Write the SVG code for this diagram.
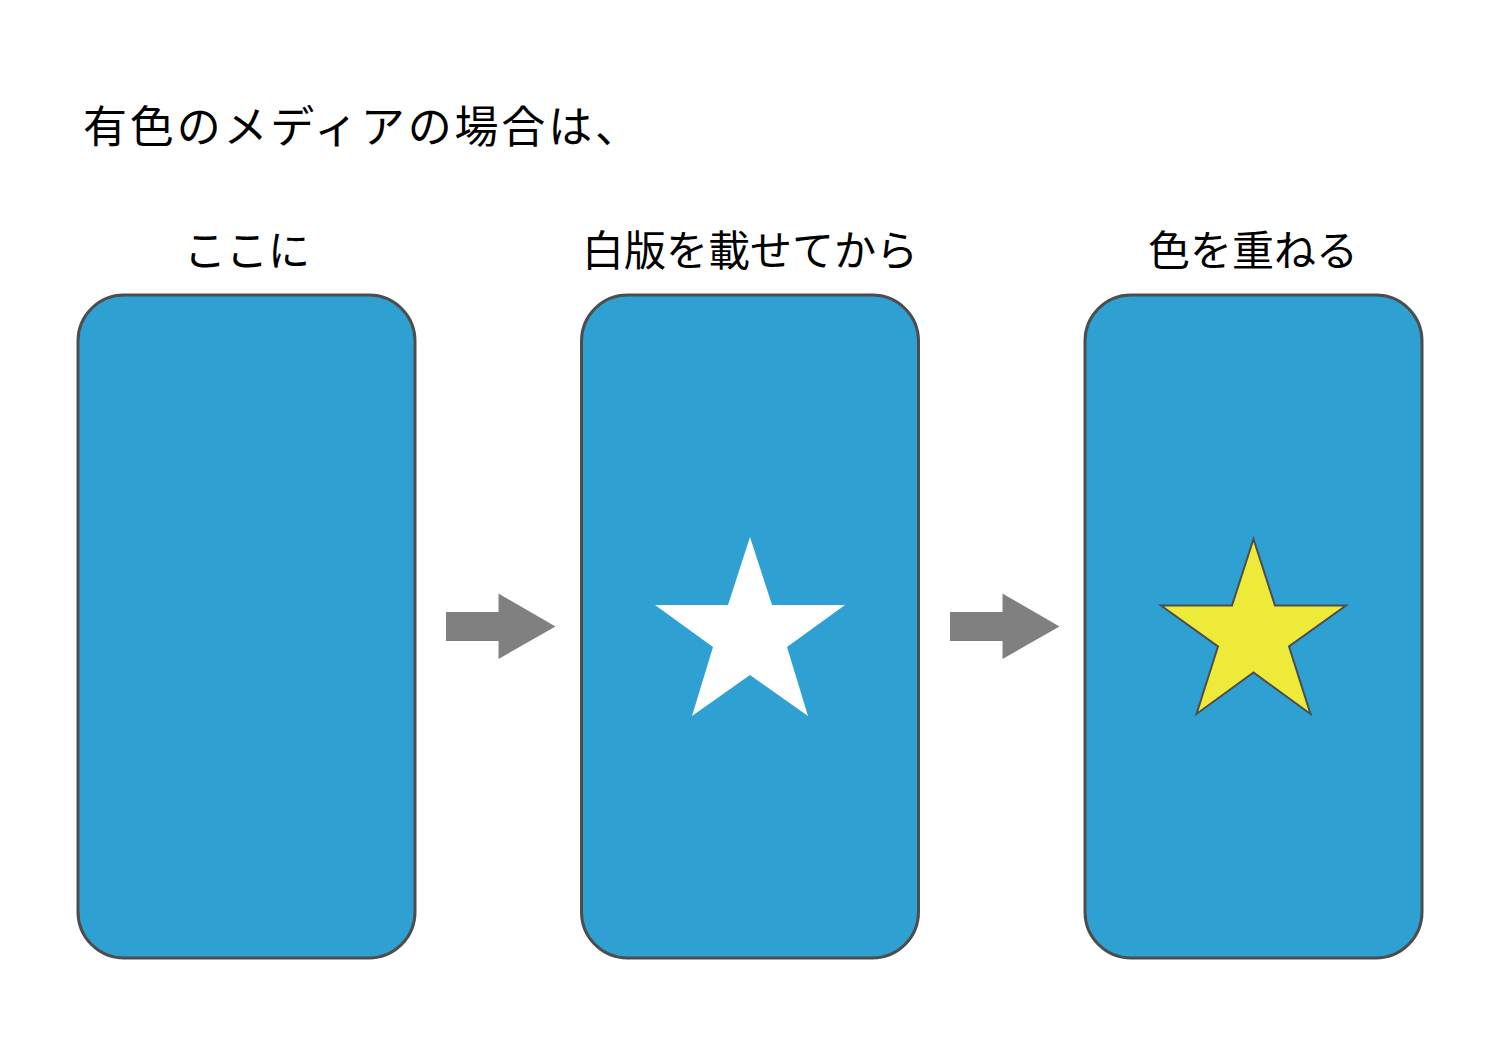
<svg xmlns="http://www.w3.org/2000/svg" width="1500" height="1060" viewBox="0 0 1500 1060">
<style>
.t{font-family:"Noto Sans CJK JP","Noto Sans",sans-serif;fill:#000}
.card{fill:#2ea0d2;stroke:#4d4d4d;stroke-width:3}
.arr{fill:#808080}
</style>
<rect width="1500" height="1060" fill="#fff"/>
<text class="t" x="83" y="143" font-size="44" textLength="556" lengthAdjust="spacing">有色のメディアの場合は、</text>
<g id="node1">
<rect class="card" x="78" y="295" width="337" height="663" rx="46"/>
<text class="t" x="247" y="266" font-size="42" text-anchor="middle">ここに</text>
</g>
<g id="node2">
<rect class="card" x="581.5" y="295" width="337" height="663" rx="46"/>
<text class="t" x="750" y="266" font-size="42" text-anchor="middle">白版を載せてから</text>
<polygon fill="#fff" points="750,537 772,605 845,605 787,647 808,716 750,675 692,716 713,647 655,605 728,605"/>
</g>
<g id="node3">
<rect class="card" x="1085" y="295" width="337" height="663" rx="46"/>
<text class="t" x="1253" y="266" font-size="42" text-anchor="middle">色を重ねる</text>
<polygon fill="#eeea3a" stroke="#4d4d4d" stroke-width="2" points="1253.5,539 1275,605.5 1346,605.5 1289,646.5 1310.5,714 1253.5,672.5 1196.5,714 1218,646.5 1161,605.5 1232,605.5"/>
</g>
<g id="connectors">
<polygon class="arr" points="446,612 498.5,612 498.5,593.5 555.5,626.5 498.5,659 498.5,641 446,641"/>
<polygon class="arr" points="950,612 1002.5,612 1002.5,593.5 1059.5,626.5 1002.5,659 1002.5,641 950,641"/>
</g>
</svg>
